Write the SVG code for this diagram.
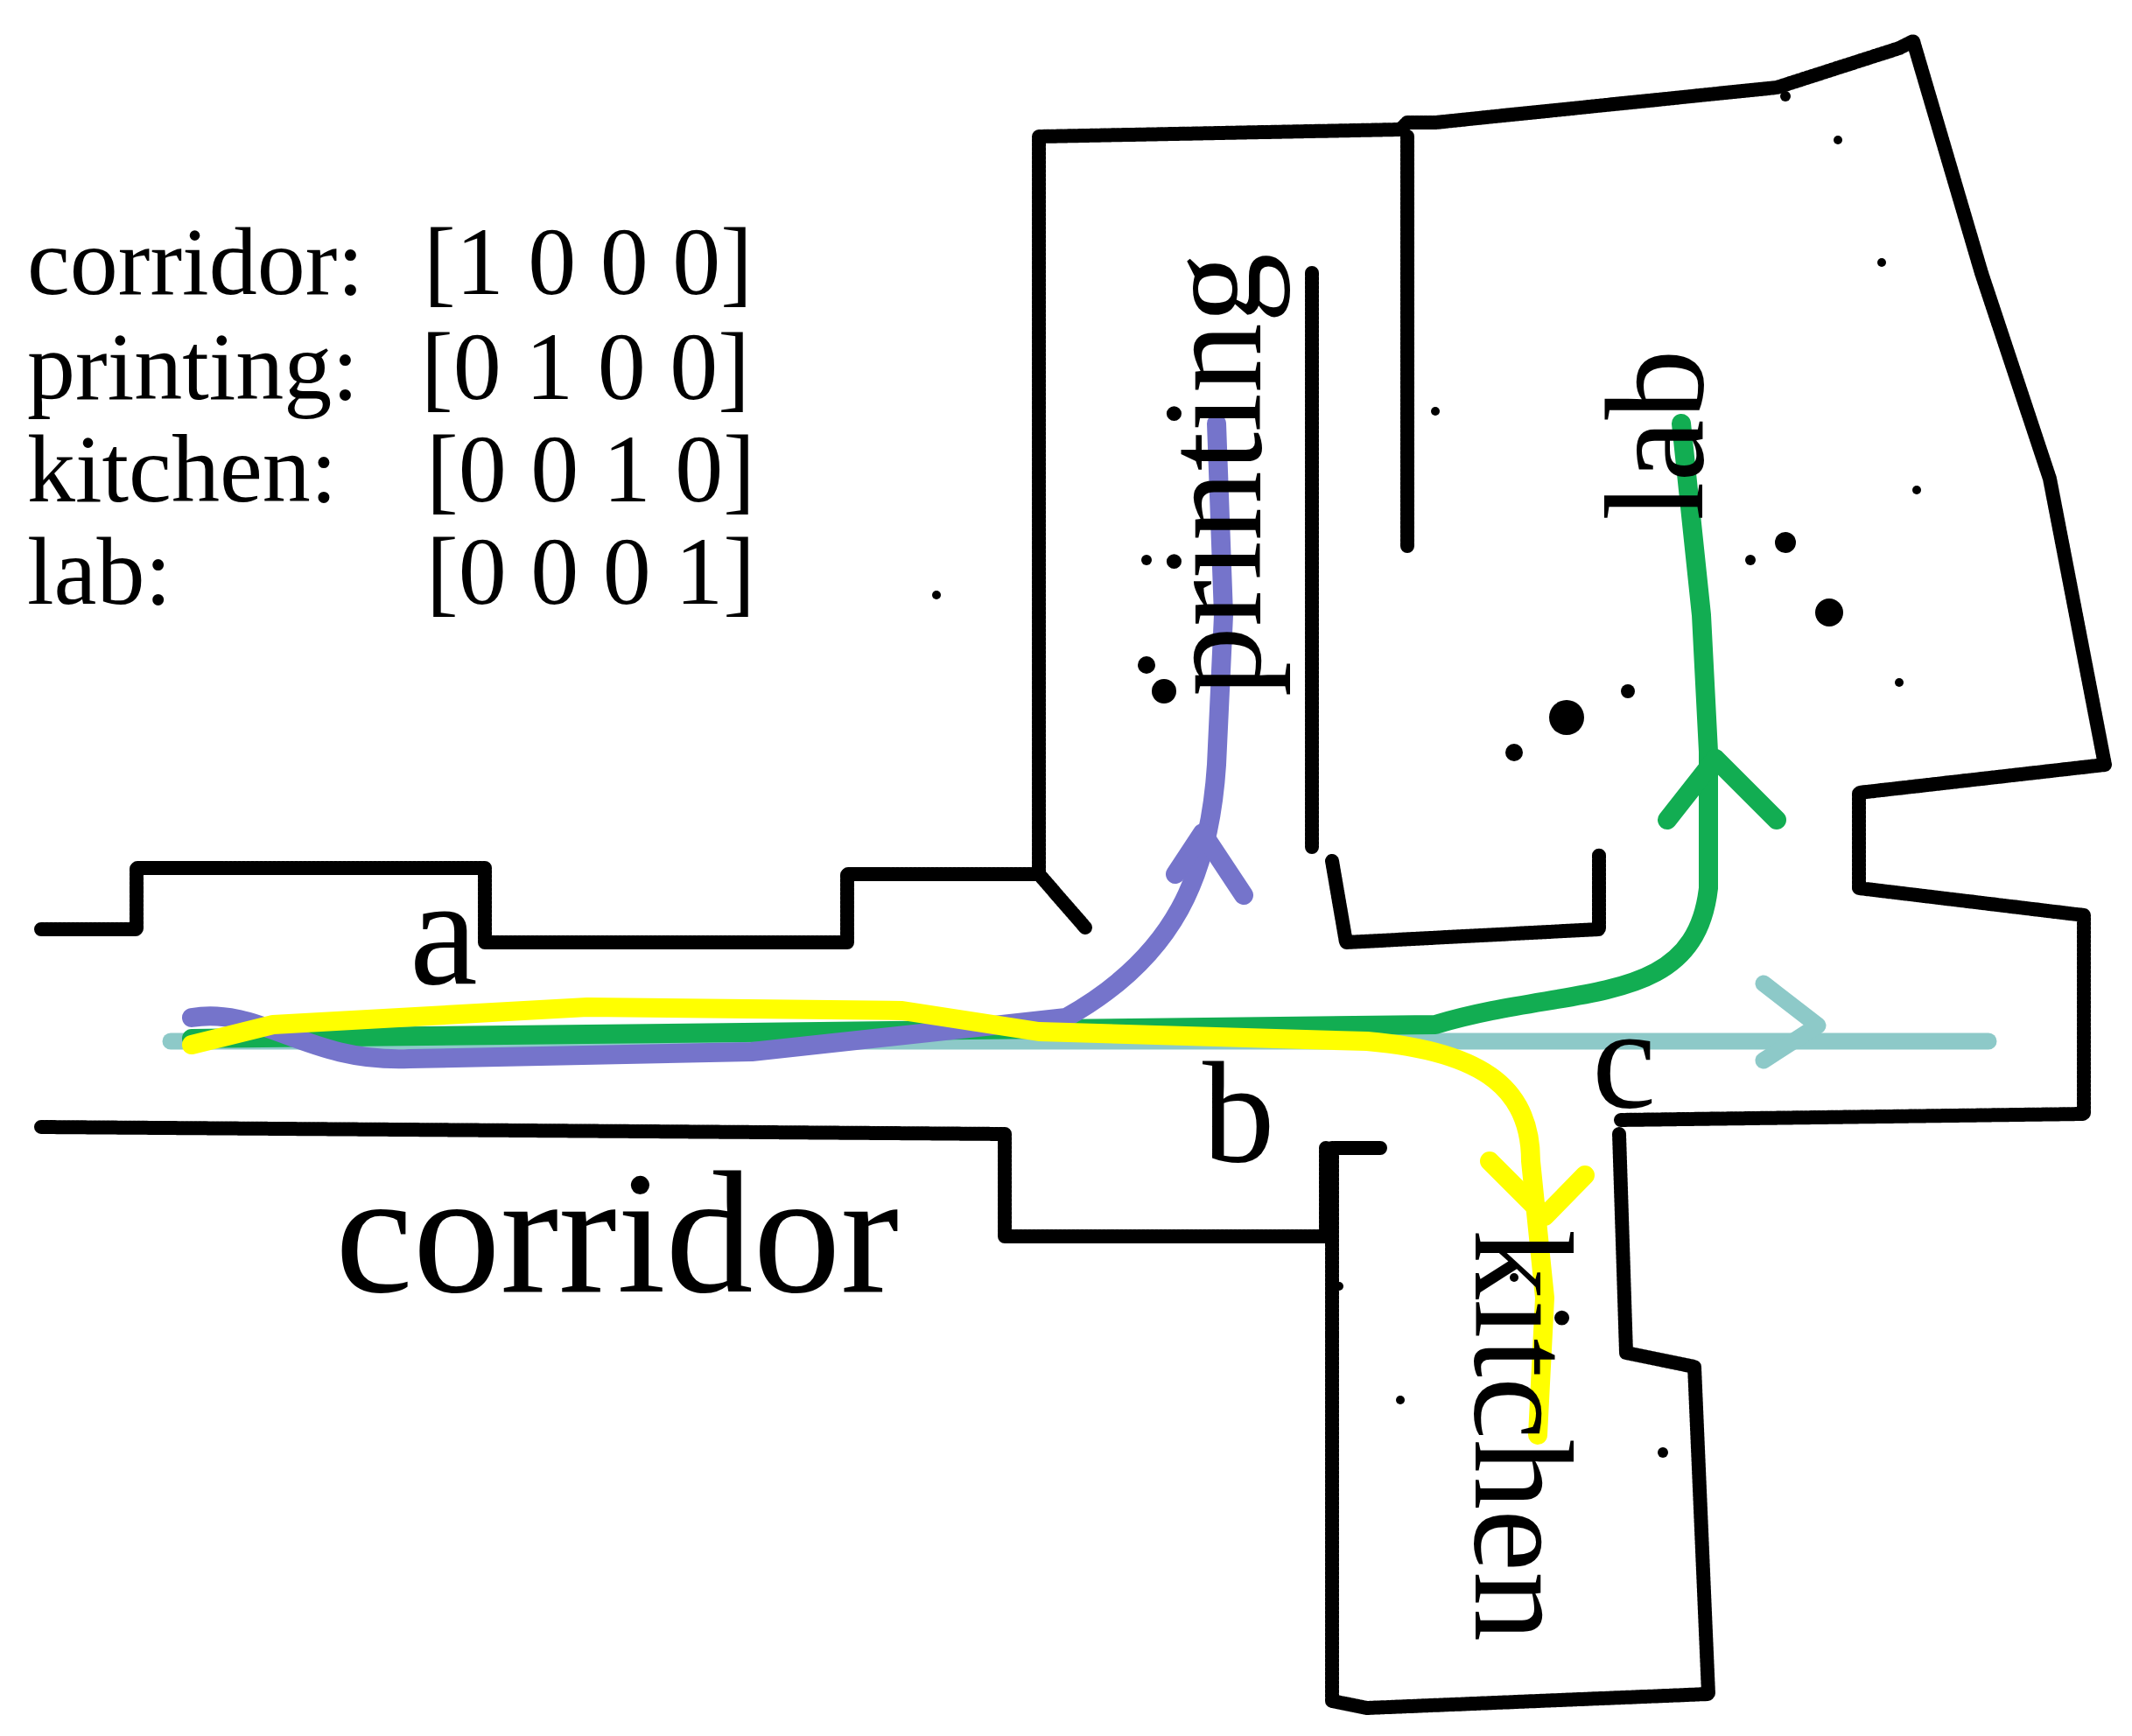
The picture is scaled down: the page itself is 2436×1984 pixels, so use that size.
<svg xmlns="http://www.w3.org/2000/svg" width="2436" height="1984" viewBox="0 0 2436 1984">
<style>
.w{fill:none;stroke:#000;stroke-width:16;stroke-linejoin:round;stroke-linecap:round;stroke-dasharray:3 2}
.p{fill:none;stroke-linecap:round;stroke-linejoin:round}
text{font-family:"Liberation Serif","Times New Roman",serif;fill:#000}
.lg{font-size:110px}
.lb{font-size:160px}
</style>
<rect width="2436" height="1984" fill="#fff"/>
<g id="walls">
<polyline class="w" points="47,1062 156,1062 156,992 554,992 554,1077 968,1077 968,999 1187,999 1187,156 1600,148 1608,140 1640,140 2030,100 2170,55 2186,47 2264,312 2342,547 2405,874 2124,906 2124,1015 2381,1046 2381,1273 1850,1280"/>
<polyline class="w" points="1850,1296 1858,1546 1936,1562 1952,1936 1562,1952 1522,1944 1522,1312 1577,1312"/>
<polyline class="w" points="47,1288 1148,1296 1148,1413 1515,1413 1515,1312"/>
<polyline class="w" points="1499,312 1499,968"/>
<polyline class="w" points="1608,156 1608,624"/>
<polyline class="w" points="1522,984 1538,1077 1827,1062 1827,976"/>
<polyline class="w" points="1187,999 1240,1060"/>
<g fill="#000">
<circle cx="1330" cy="790" r="14"/><circle cx="1310" cy="640" r="6"/><circle cx="1790" cy="820" r="20"/><circle cx="1730" cy="860" r="10"/>
<circle cx="2040" cy="620" r="12"/><circle cx="2090" cy="700" r="16"/><circle cx="2000" cy="640" r="6"/><circle cx="2150" cy="300" r="5"/>
<circle cx="2040" cy="110" r="6"/><circle cx="2100" cy="160" r="5"/><circle cx="1640" cy="470" r="5"/><circle cx="1070" cy="680" r="5"/>
<circle cx="1730" cy="1460" r="5"/><circle cx="1600" cy="1600" r="5"/><circle cx="1900" cy="1660" r="6"/><circle cx="1530" cy="1470" r="5"/>
<circle cx="2170" cy="780" r="5"/><circle cx="1860" cy="790" r="8"/><circle cx="2190" cy="560" r="5"/><circle cx="1310" cy="760" r="10"/>
</g>
</g>
<g id="connectors">
<g stroke="#8dc9c8" stroke-width="19" class="p">
<path d="M195,1190 L2272,1190"/><path d="M2015,1124 L2077,1172 L2015,1212"/>
</g>
<g stroke="#12ad52" stroke-width="22" class="p">
<path d="M219,1187 L937,1179 L1640,1171 C1796,1124 1936,1155 1952,1015 L1952,859 L1944,703 L1921,484"/>
<path d="M1905,937 L1960,867 L2030,937"/>
</g>
<g stroke="#7574cb" stroke-width="22" class="p">
<path d="M219,1163 C300,1150 350,1215 468,1210 L859,1202 L1218,1163 C1343,1093 1382,999 1390,874 L1398,703 L1390,484"/>
<path d="M1343,999 L1374,952 L1421,1023"/>
</g>
<g stroke="#ffff00" stroke-width="22" class="p">
<path d="M219,1194 L312,1171 L671,1151 L1031,1155 L1187,1179 L1562,1190 C1702,1202 1749,1249 1749,1327 L1765,1483 L1757,1640"/>
<path d="M1702,1327 L1765,1390 L1811,1343"/>
</g>
</g>
<g id="legend">
<text class="lg" x="31" y="336">corridor:</text><text class="lg" x="484" y="336">[1 0 0 0]</text>
<text class="lg" x="31" y="456">printing:</text><text class="lg" x="481" y="456">[0 1 0 0]</text>
<text class="lg" x="31" y="573">kitchen:</text><text class="lg" x="487" y="573">[0 0 1 0]</text>
<text class="lg" x="31" y="690">lab:</text><text class="lg" x="487" y="690">[0 0 0 1]</text>
</g>
<g id="labels">
<text x="468" y="1124" font-size="175">a</text>
<text x="1374" y="1327" font-size="165">b</text>
<text x="1819" y="1265" font-size="165">c</text>
<text x="383" y="1476" font-size="200">corridor</text>
<text class="lb" transform="translate(1440,796) rotate(-90)">printing</text>
<text class="lb" transform="translate(1945,595) rotate(-90)">lab</text>
<text class="lb" transform="translate(1686,1405) rotate(90)">kitchen</text>
</g>
</svg>
